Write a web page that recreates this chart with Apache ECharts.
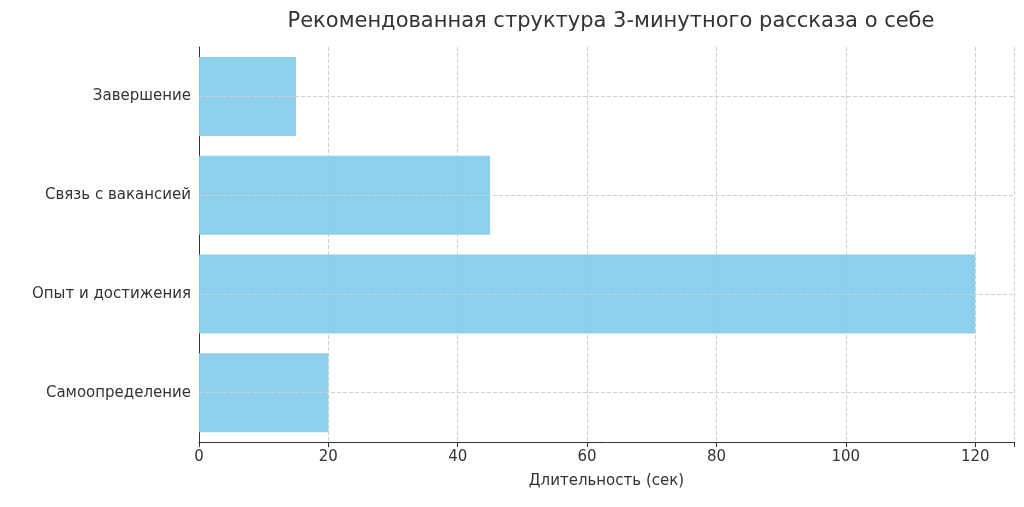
<!DOCTYPE html><html><head><meta charset="utf-8"><script src="https://cdn.jsdelivr.net/npm/echarts@6/dist/echarts.min.js"></script></head><body style="margin:0"><div id="c" style="width:1024px;height:507px"></div><script>
const categories=['Самоопределение','Опыт и достижения','Связь с вакансией','Завершение'];
const values=[20,120,45,15];
const xTicks=[0,20,40,60,80,100,120];
const c=echarts.init(document.getElementById('c'));
const grid='#d0d0d0';
c.setOption({animation:false,
title:{text:'Рекомендованная структура 3-минутного рассказа о себе',left:606,top:6,textAlign:'center',textStyle:{fontFamily:'DejaVu Sans',fontSize:21,fontWeight:'normal',color:'#333'}},
grid:{left:199,right:10,top:47,bottom:65},
xAxis:{type:'value',min:0,max:126,interval:20,name:'Длительность (сек)',nameLocation:'middle',nameGap:32,nameTextStyle:{fontFamily:'DejaVu Sans',fontSize:15,color:'#333'},
axisLine:{show:true,lineStyle:{color:'#333'}},axisTick:{show:true,lineStyle:{color:'#333'}},
axisLabel:{fontFamily:'DejaVu Sans',fontSize:15,color:'#333',formatter:v=>xTicks.includes(v)?v:''},
splitLine:{lineStyle:{type:'dashed',color:grid}}},
yAxis:{type:'category',data:categories,axisLine:{lineStyle:{color:'#333'}},axisTick:{alignWithLabel:true,lineStyle:{color:'#333'}},
axisLabel:{fontFamily:'DejaVu Sans',fontSize:15,color:'#333',margin:8},splitLine:{show:false}},
series:[{type:'bar',data:values,barWidth:'80%',itemStyle:{color:'#87CEEB',opacity:0.95},
markLine:{silent:true,symbol:'none',label:{show:false},lineStyle:{type:'dashed',color:grid,width:1},data:categories.map(k=>({yAxis:k}))}}]
});
</script></body></html>
